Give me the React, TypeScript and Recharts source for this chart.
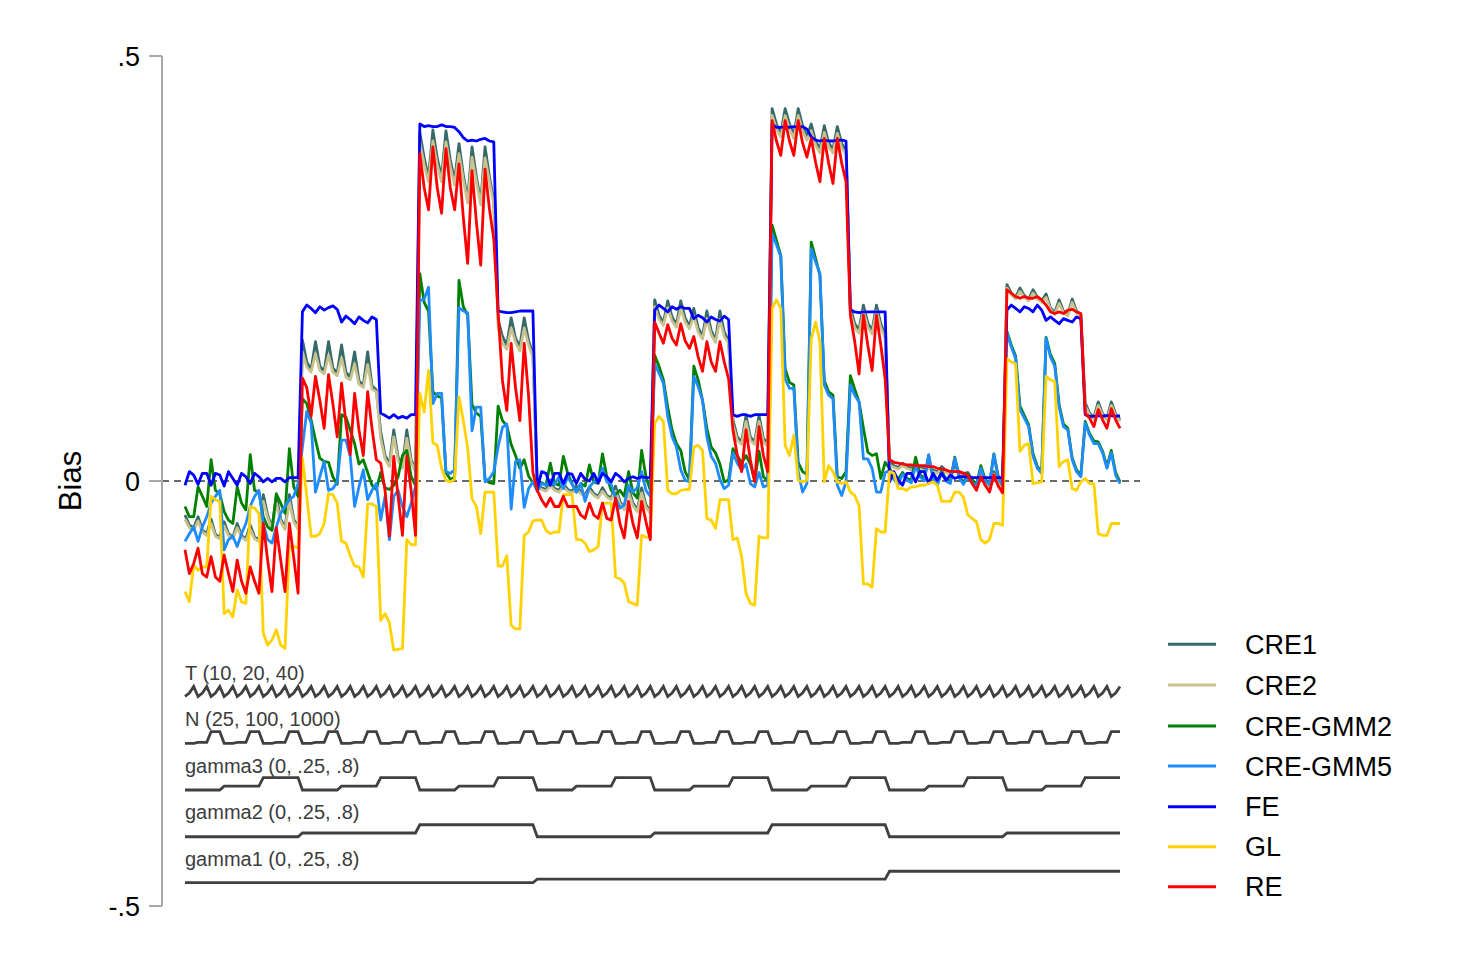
import React from 'react';
import { LineChart, Line, XAxis, YAxis, ReferenceLine } from 'recharts';

// ---- design factors (nested loop order: gamma1 > gamma2 > gamma3 > N > T) ----
const gamma1Levels = [0, 0.25, 0.8];
const gamma2Levels = [0, 0.25, 0.8];
const gamma3Levels = [0, 0.25, 0.8];
const nLevels = [25, 100, 1000];
const tLevels = [10, 20, 40];

const yTicks = [-0.5, 0, 0.5];
const yTickLabels = ['-.5', '0', '.5'];

const seriesNames = ['CRE1', 'CRE2', 'CRE-GMM2', 'CRE-GMM5', 'FE', 'GL', 'RE'];
const seriesColors = ['#35696a', '#c9c28e', '#008000', '#1e8cff', '#0000ff', '#ffd200', '#ff0000'];

const stepLabels = ['T (10, 20, 40)', 'N (25, 100, 1000)', 'gamma3 (0, .25, .8)', 'gamma2 (0, .25, .8)', 'gamma1 (0, .25, .8)'];

// ---- bias values, 216 scenarios each ----
const cre1 = [
  -0.040, -0.052, -0.055, -0.042, -0.058, -0.062, -0.045, -0.063, -0.066, -0.048, -0.062, -0.066, -0.050, -0.064, -0.068, -0.052, -0.066, -0.069, -0.016, -0.040, -0.055, -0.018, -0.045, -0.055, -0.016, -0.045, -0.055,
  0.166, 0.140, 0.131, 0.164, 0.135, 0.129, 0.164, 0.133, 0.127, 0.160, 0.128, 0.122, 0.152, 0.118, 0.112, 0.152, 0.112, 0.107, 0.058, 0.030, 0.020, 0.060, 0.028, 0.018, 0.060, 0.025, 0.013,
  0.410, 0.380, 0.357, 0.413, 0.380, 0.357, 0.412, 0.378, 0.353, 0.397, 0.360, 0.331, 0.393, 0.358, 0.329, 0.393, 0.358, 0.330, 0.190, 0.170, 0.160, 0.192, 0.168, 0.158, 0.192, 0.165, 0.150,
  -0.004, -0.008, -0.010, -0.002, -0.009, -0.011, -0.003, -0.010, -0.012, -0.006, -0.013, -0.016, -0.007, -0.015, -0.018, -0.008, -0.017, -0.020, -0.006, -0.024, -0.032, -0.008, -0.026, -0.034, -0.008, -0.028, -0.036,
  0.213, 0.195, 0.186, 0.212, 0.193, 0.184, 0.212, 0.192, 0.182, 0.203, 0.180, 0.170, 0.200, 0.177, 0.166, 0.200, 0.175, 0.165, 0.072, 0.052, 0.046, 0.077, 0.052, 0.046, 0.077, 0.050, 0.044,
  0.438, 0.420, 0.409, 0.438, 0.420, 0.407, 0.438, 0.418, 0.405, 0.420, 0.400, 0.390, 0.418, 0.398, 0.390, 0.417, 0.397, 0.388, 0.205, 0.185, 0.178, 0.207, 0.186, 0.177, 0.207, 0.185, 0.172,
  0.022, 0.018, 0.016, 0.021, 0.017, 0.015, 0.021, 0.016, 0.014, 0.018, 0.013, 0.011, 0.017, 0.012, 0.010, 0.016, 0.011, 0.009, 0.010, 0.001, -0.006, 0.010, 0.000, -0.008, 0.011, -0.001, -0.009,
  0.231, 0.221, 0.216, 0.227, 0.218, 0.214, 0.225, 0.216, 0.212, 0.220, 0.204, 0.198, 0.213, 0.200, 0.196, 0.214, 0.200, 0.195, 0.092, 0.080, 0.075, 0.093, 0.079, 0.074, 0.093, 0.079, 0.072,
];

const cre2 = [
  -0.045, -0.055, -0.058, -0.047, -0.060, -0.064, -0.050, -0.065, -0.068, -0.053, -0.064, -0.068, -0.055, -0.066, -0.070, -0.057, -0.068, -0.071, -0.024, -0.043, -0.057, -0.026, -0.048, -0.057, -0.024, -0.048, -0.057,
  0.152, 0.134, 0.128, 0.150, 0.130, 0.126, 0.148, 0.128, 0.124, 0.145, 0.122, 0.119, 0.138, 0.114, 0.110, 0.137, 0.108, 0.105, 0.050, 0.026, 0.017, 0.052, 0.024, 0.015, 0.050, 0.022, 0.011,
  0.398, 0.372, 0.352, 0.400, 0.372, 0.352, 0.399, 0.370, 0.348, 0.385, 0.354, 0.327, 0.381, 0.352, 0.325, 0.380, 0.352, 0.326, 0.180, 0.162, 0.155, 0.180, 0.163, 0.153, 0.180, 0.160, 0.146,
  -0.007, -0.010, -0.012, -0.006, -0.011, -0.013, -0.007, -0.012, -0.014, -0.010, -0.015, -0.018, -0.011, -0.017, -0.020, -0.012, -0.019, -0.022, -0.012, -0.027, -0.034, -0.014, -0.029, -0.036, -0.014, -0.031, -0.038,
  0.205, 0.190, 0.183, 0.204, 0.188, 0.181, 0.203, 0.187, 0.179, 0.194, 0.175, 0.167, 0.191, 0.172, 0.163, 0.190, 0.170, 0.162, 0.066, 0.048, 0.043, 0.070, 0.048, 0.043, 0.070, 0.046, 0.041,
  0.430, 0.414, 0.405, 0.430, 0.414, 0.403, 0.430, 0.412, 0.401, 0.412, 0.395, 0.386, 0.410, 0.393, 0.386, 0.409, 0.392, 0.384, 0.198, 0.180, 0.174, 0.200, 0.181, 0.173, 0.200, 0.180, 0.168,
  0.019, 0.016, 0.014, 0.018, 0.015, 0.013, 0.018, 0.014, 0.012, 0.015, 0.011, 0.009, 0.014, 0.010, 0.008, 0.013, 0.009, 0.007, 0.007, -0.001, -0.008, 0.007, -0.002, -0.010, 0.008, -0.003, -0.011,
  0.227, 0.219, 0.214, 0.223, 0.216, 0.212, 0.221, 0.214, 0.210, 0.216, 0.202, 0.196, 0.209, 0.198, 0.194, 0.210, 0.198, 0.193, 0.088, 0.078, 0.073, 0.089, 0.077, 0.072, 0.089, 0.077, 0.070,
];

const creGmm2 = [
  -0.030, -0.042, -0.042, -0.007, -0.018, -0.030, 0.025, -0.011, -0.015, -0.036, -0.046, -0.050, -0.007, -0.026, -0.034, 0.031, -0.011, -0.013, -0.042, -0.054, -0.058, -0.015, -0.026, -0.038, 0.038, -0.007, -0.018,
  0.097, 0.091, 0.072, 0.048, 0.027, 0.023, 0.022, 0.005, -0.004, 0.078, 0.075, 0.060, 0.044, 0.020, 0.025, 0.010, -0.005, -0.010, 0.010, -0.008, -0.010, -0.005, 0.005, 0.030, 0.036, 0.005, -0.005,
  0.244, 0.210, 0.200, 0.105, 0.100, 0.098, 0.010, 0.002, 0.004, 0.236, 0.205, 0.195, 0.090, 0.080, 0.076, 0.002, -0.002, -0.003, 0.088, 0.071, 0.065, 0.043, 0.030, 0.015, 0.025, 0.006, -0.002,
  0.000, -0.002, -0.005, 0.021, -0.003, -0.005, 0.029, 0.009, -0.003, -0.013, -0.003, -0.006, 0.019, -0.001, -0.003, 0.032, 0.005, -0.011, -0.016, -0.011, -0.018, 0.011, -0.014, -0.020, 0.036, 0.005, -0.011,
  0.148, 0.135, 0.119, 0.087, 0.060, 0.044, 0.036, 0.011, 0.001, 0.135, 0.119, 0.095, 0.062, 0.040, 0.033, 0.020, -0.001, 0.001, 0.038, 0.030, 0.021, 0.030, 0.020, 0.000, 0.035, 0.005, 0.000,
  0.301, 0.283, 0.265, 0.132, 0.116, 0.113, 0.022, 0.011, 0.008, 0.281, 0.262, 0.242, 0.118, 0.105, 0.101, 0.005, 0.003, 0.011, 0.124, 0.108, 0.093, 0.062, 0.034, 0.030, 0.032, 0.003, 0.022,
  0.015, 0.005, 0.002, 0.010, 0.003, 0.001, 0.028, 0.008, 0.002, 0.030, 0.005, -0.002, 0.012, 0.002, -0.001, 0.028, 0.006, -0.002, 0.008, 0.002, -0.004, 0.018, 0.002, -0.003, 0.032, 0.006, -0.004,
  0.176, 0.160, 0.147, 0.088, 0.077, 0.066, 0.032, 0.017, 0.011, 0.169, 0.149, 0.138, 0.090, 0.067, 0.062, 0.027, 0.013, 0.007, 0.070, 0.056, 0.047, 0.046, 0.035, 0.017, 0.036, 0.010, -0.001,
];

const creGmm5 = [
  -0.071, -0.062, -0.054, -0.071, -0.054, -0.042, -0.026, -0.018, -0.011, -0.081, -0.069, -0.065, -0.077, -0.062, -0.050, -0.030, -0.018, -0.011, -0.050, -0.069, -0.073, -0.054, -0.038, -0.030, -0.022, -0.018, -0.003,
  0.040, 0.082, 0.068, -0.013, 0.005, 0.023, -0.011, -0.009, -0.001, 0.048, 0.048, 0.029, -0.030, -0.007, 0.013, -0.022, -0.011, -0.003, -0.046, -0.018, -0.069, -0.018, -0.011, -0.030, -0.042, -0.026, -0.007,
  0.212, 0.214, 0.228, 0.091, 0.103, 0.103, 0.011, 0.009, 0.013, 0.204, 0.200, 0.198, 0.059, 0.087, 0.087, -0.001, 0.003, 0.011, 0.040, 0.063, 0.067, -0.033, 0.023, 0.025, -0.031, -0.009, -0.001,
  -0.012, -0.003, -0.005, 0.001, -0.004, 0.005, -0.009, 0.005, -0.004, -0.013, -0.003, -0.024, -0.007, -0.001, 0.000, 0.015, -0.001, -0.004, -0.020, -0.032, -0.028, -0.005, -0.013, -0.008, 0.011, -0.011, -0.018,
  0.138, 0.127, 0.115, 0.076, 0.052, 0.040, 0.013, 0.001, -0.001, 0.123, 0.111, 0.095, 0.052, 0.029, 0.021, 0.002, -0.009, -0.005, 0.033, 0.021, 0.013, 0.020, -0.003, -0.007, 0.010, -0.007, -0.005,
  0.291, 0.278, 0.264, 0.120, 0.109, 0.109, 0.011, -0.013, -0.003, 0.273, 0.258, 0.244, 0.113, 0.101, 0.097, -0.005, -0.017, -0.001, 0.113, 0.101, 0.093, 0.026, 0.026, 0.015, -0.013, -0.013, 0.010,
  0.012, 0.002, -0.004, 0.008, 0.001, -0.002, 0.018, 0.005, 0.000, 0.031, 0.003, -0.005, 0.010, 0.000, -0.003, 0.027, 0.004, -0.004, 0.005, -0.002, -0.006, 0.015, 0.000, -0.004, 0.031, 0.003, -0.005,
  0.174, 0.158, 0.144, 0.084, 0.074, 0.064, 0.029, 0.015, 0.009, 0.168, 0.146, 0.135, 0.087, 0.064, 0.060, 0.025, 0.011, 0.005, 0.068, 0.054, 0.044, 0.044, 0.033, 0.015, 0.033, 0.007, -0.003,
];

const fe = [
  -0.005, 0.011, 0.007, -0.004, 0.009, 0.009, -0.005, 0.009, 0.007, -0.006, 0.011, 0.003, -0.005, 0.009, 0.005, -0.003, 0.009, 0.005, -0.001, 0.003, -0.001, 0.003, 0.003, -0.001, 0.004, 0.004, 0.004,
  0.199, 0.207, 0.203, 0.198, 0.205, 0.201, 0.204, 0.206, 0.202, 0.187, 0.194, 0.190, 0.185, 0.193, 0.189, 0.186, 0.193, 0.190, 0.080, 0.077, 0.074, 0.078, 0.074, 0.076, 0.074, 0.078, 0.078,
  0.420, 0.417, 0.418, 0.417, 0.417, 0.419, 0.417, 0.417, 0.416, 0.411, 0.404, 0.400, 0.401, 0.400, 0.402, 0.403, 0.400, 0.399, 0.200, 0.199, 0.198, 0.198, 0.199, 0.200, 0.200, 0.200, 0.200,
  -0.010, 0.011, 0.009, -0.005, 0.009, 0.009, -0.003, 0.009, 0.008, -0.003, 0.009, 0.002, 0.000, 0.009, -0.002, 0.009, 0.005, -0.001, 0.009, 0.005, -0.001, 0.003, 0.005, 0.003, 0.005, 0.004, 0.004,
  0.201, 0.207, 0.203, 0.199, 0.205, 0.202, 0.205, 0.203, 0.203, 0.191, 0.195, 0.192, 0.187, 0.193, 0.190, 0.188, 0.194, 0.190, 0.078, 0.076, 0.078, 0.078, 0.076, 0.078, 0.078, 0.078, 0.078,
  0.420, 0.416, 0.416, 0.417, 0.416, 0.417, 0.416, 0.417, 0.414, 0.405, 0.401, 0.400, 0.401, 0.400, 0.400, 0.401, 0.401, 0.400, 0.201, 0.199, 0.198, 0.199, 0.199, 0.199, 0.199, 0.199, 0.199,
  -0.001, 0.011, 0.001, -0.005, 0.009, 0.009, -0.001, 0.011, 0.011, -0.003, 0.009, 0.001, 0.009, 0.001, 0.007, 0.003, 0.005, 0.005, 0.005, 0.004, 0.004, 0.004, 0.004, 0.004, 0.004, 0.004, 0.004,
  0.201, 0.207, 0.203, 0.199, 0.205, 0.203, 0.199, 0.207, 0.201, 0.189, 0.193, 0.189, 0.185, 0.191, 0.189, 0.187, 0.193, 0.191, 0.078, 0.076, 0.076, 0.077, 0.076, 0.077, 0.077, 0.076, 0.077,
];

const gl = [
  -0.130, -0.142, -0.099, -0.105, -0.101, -0.101, -0.018, -0.022, -0.024, -0.156, -0.152, -0.160, -0.128, -0.142, -0.144, -0.030, -0.032, -0.038, -0.179, -0.193, -0.187, -0.175, -0.193, -0.197, -0.077, -0.077, -0.079,
  0.027, -0.018, -0.065, -0.065, -0.062, -0.050, -0.015, -0.016, -0.026, -0.071, -0.073, -0.088, -0.100, -0.101, -0.113, -0.027, -0.027, -0.030, -0.164, -0.156, -0.167, -0.199, -0.198, -0.197, -0.069, -0.075, -0.075,
  0.103, 0.081, 0.130, 0.045, 0.042, 0.015, 0.001, -0.001, 0.002, 0.099, 0.071, 0.039, -0.021, -0.030, -0.062, -0.013, -0.013, -0.013, -0.100, -0.100, -0.088, -0.170, -0.174, -0.174, -0.064, -0.060, -0.047,
  -0.046, -0.046, -0.058, -0.062, -0.060, -0.060, -0.016, -0.016, -0.016, -0.069, -0.069, -0.073, -0.083, -0.081, -0.077, -0.026, -0.026, -0.026, -0.113, -0.115, -0.120, -0.142, -0.144, -0.146, -0.064, -0.066, -0.066,
  0.068, 0.076, 0.070, -0.011, -0.015, -0.015, -0.011, -0.010, -0.010, 0.040, 0.042, 0.036, -0.044, -0.046, -0.056, -0.022, -0.022, -0.022, -0.069, -0.067, -0.089, -0.132, -0.144, -0.146, -0.065, -0.067, -0.067,
  0.203, 0.213, 0.203, 0.042, 0.030, 0.054, 0.001, -0.001, 0.001, 0.167, 0.187, 0.164, -0.001, 0.018, 0.011, -0.001, -0.003, -0.001, -0.013, -0.017, -0.029, -0.121, -0.121, -0.125, -0.056, -0.060, -0.060,
  0.011, 0.009, -0.009, -0.009, -0.011, -0.007, -0.007, -0.005, -0.005, -0.003, -0.001, -0.005, -0.024, -0.024, -0.024, -0.013, -0.013, -0.019, -0.040, -0.044, -0.048, -0.069, -0.073, -0.069, -0.050, -0.050, -0.052,
  0.144, 0.140, 0.138, 0.035, 0.042, 0.044, -0.003, -0.002, -0.001, 0.123, 0.119, 0.117, 0.017, 0.023, 0.025, -0.009, -0.011, -0.001, 0.003, -0.003, -0.003, -0.062, -0.064, -0.064, -0.050, -0.050, -0.050,
];

const re = [
  -0.081, -0.109, -0.097, -0.079, -0.109, -0.113, -0.089, -0.113, -0.118, -0.087, -0.109, -0.130, -0.093, -0.118, -0.132, -0.101, -0.118, -0.132, -0.050, -0.093, -0.130, -0.055, -0.093, -0.130, -0.050, -0.090, -0.132,
  0.121, 0.110, 0.076, 0.123, 0.095, 0.062, 0.125, 0.091, 0.052, 0.115, 0.068, 0.031, 0.103, 0.060, 0.030, 0.105, 0.062, 0.025, 0.021, -0.011, -0.065, 0.029, -0.018, -0.064, 0.029, -0.011, -0.064,
  0.385, 0.345, 0.319, 0.393, 0.345, 0.315, 0.391, 0.345, 0.319, 0.373, 0.310, 0.256, 0.365, 0.305, 0.254, 0.367, 0.320, 0.285, 0.198, 0.118, 0.083, 0.162, 0.110, 0.071, 0.162, 0.100, 0.010,
  -0.011, -0.022, -0.030, -0.020, -0.030, -0.030, -0.018, -0.030, -0.030, -0.030, -0.040, -0.044, -0.026, -0.040, -0.044, -0.026, -0.044, -0.046, -0.020, -0.050, -0.067, -0.024, -0.050, -0.067, -0.024, -0.048, -0.069,
  0.187, 0.174, 0.162, 0.184, 0.168, 0.160, 0.185, 0.165, 0.156, 0.170, 0.146, 0.129, 0.164, 0.140, 0.129, 0.164, 0.140, 0.120, 0.060, 0.030, 0.011, 0.060, 0.025, -0.001, 0.064, 0.030, 0.011,
  0.424, 0.400, 0.383, 0.424, 0.400, 0.383, 0.424, 0.398, 0.381, 0.403, 0.375, 0.352, 0.403, 0.374, 0.350, 0.403, 0.374, 0.352, 0.195, 0.164, 0.126, 0.195, 0.160, 0.130, 0.195, 0.160, 0.120,
  0.025, 0.022, 0.021, 0.020, 0.019, 0.019, 0.018, 0.018, 0.018, 0.017, 0.017, 0.015, 0.014, 0.013, 0.011, 0.011, 0.011, 0.009, 0.007, -0.003, -0.011, 0.005, -0.005, -0.013, 0.007, -0.006, -0.014,
  0.225, 0.221, 0.217, 0.215, 0.217, 0.215, 0.215, 0.217, 0.213, 0.207, 0.199, 0.197, 0.199, 0.197, 0.201, 0.202, 0.199, 0.197, 0.080, 0.074, 0.064, 0.084, 0.072, 0.062, 0.085, 0.072, 0.062,
];

const seriesValues = [cre1, cre2, creGmm2, creGmm5, fe, gl, re];

// ---- step-line placement (data units on the Bias axis) ----
const stepSpecs = [
  { key: 'stepT', field: 't', levels: tLevels, base: -0.2535, range: 0.0118 },
  { key: 'stepN', field: 'n', levels: nLevels, base: -0.3086, range: 0.0137 },
  { key: 'stepG3', field: 'g3', levels: gamma3Levels, base: -0.3635, range: 0.0145 },
  { key: 'stepG2', field: 'g2', levels: gamma2Levels, base: -0.4185, range: 0.0141 },
  { key: 'stepG1', field: 'g1', levels: gamma1Levels, base: -0.4726, range: 0.0135 },
];

type Row = { [k: string]: number };

const rows: Row[] = [];
{
  let idx = 0;
  for (const g1 of gamma1Levels) {
    for (const g2 of gamma2Levels) {
      if (g1 === 0.8 && g2 === 0.8) continue;
      for (const g3 of gamma3Levels) {
        for (const n of nLevels) {
          for (const t of tLevels) {
            const row: Row = { idx, g1, g2, g3, n, t };
            seriesNames.forEach((name, s) => {
              row[name] = seriesValues[s][idx];
            });
            for (const sp of stepSpecs) {
              const lo = Math.min(...sp.levels);
              const hi = Math.max(...sp.levels);
              row[sp.key] = sp.base + (sp.range * (row[sp.field] - lo)) / (hi - lo);
            }
            rows.push(row);
            idx++;
          }
        }
      }
    }
  }
}

const FONT = '"Liberation Sans", Arial, Helvetica, sans-serif';
const W = 1430;
const H = 950;

const stepLabelBaselines = [671.5, 717.7, 765, 811, 857.7];
const legendY = [636.3, 677, 718, 758, 798.7, 838.7, 878.7];

export default function App() {
  return (
    <div style={{ position: 'relative', width: W, height: H, background: '#fff' }}>
      <LineChart width={W} height={H} data={rows} margin={{ top: 48, right: W - 1132, bottom: H - 898, left: 54 }}>
        <XAxis dataKey="idx" type="number" domain={[-5.29, 219.6]} hide />
        <YAxis
          type="number"
          domain={[-0.5, 0.5]}
          ticks={yTicks}
          interval={0}
          width={100}
          tickFormatter={(v: number) => yTickLabels[yTicks.indexOf(v)]}
          tickSize={13}
          tickMargin={9}
          axisLine={{ stroke: '#a8a8a8', strokeWidth: 2 }}
          tickLine={{ stroke: '#a8a8a8', strokeWidth: 2 }}
          tick={{ fontSize: 27, fill: '#000', fontFamily: FONT }}
        />
        <ReferenceLine y={0} stroke="#6a6a6a" strokeWidth={2} strokeDasharray="7 5" ifOverflow="extendDomain" />
        {stepSpecs.map((sp) => (
          <Line
            key={sp.key}
            dataKey={sp.key}
            type="linear"
            stroke="#404040"
            strokeWidth={2.8}
            dot={false}
            activeDot={false}
            isAnimationActive={false}
          />
        ))}
        {seriesNames.map((name, s) => (
          <Line
            key={name}
            dataKey={name}
            type="linear"
            stroke={seriesColors[s]}
            strokeWidth={2.8}
            strokeLinejoin="round"
            dot={false}
            activeDot={false}
            isAnimationActive={false}
          />
        ))}
      </LineChart>
      <svg
        width={W}
        height={H}
        style={{ position: 'absolute', left: 0, top: 0, pointerEvents: 'none' }}
      >
        <text
          transform="translate(73,473) rotate(-90)"
          textAnchor="middle"
          fontSize={31}
          fontFamily={FONT}
          fill="#000"
        >
          Bias
        </text>
        {stepLabels.map((lab, i) => (
          <text key={lab} x={177} y={stepLabelBaselines[i]} fontSize={20} fontFamily={FONT} fill="#3c3c3c">
            {lab}
          </text>
        ))}
        {seriesNames.map((name, s) => (
          <g key={name}>
            <line x1={1160} x2={1208} y1={legendY[s]} y2={legendY[s]} stroke={seriesColors[s]} strokeWidth={3} />
            <text x={1237} y={legendY[s]} dy="0.36em" fontSize={27} fontFamily={FONT} fill="#000">
              {name}
            </text>
          </g>
        ))}
      </svg>
    </div>
  );
}
